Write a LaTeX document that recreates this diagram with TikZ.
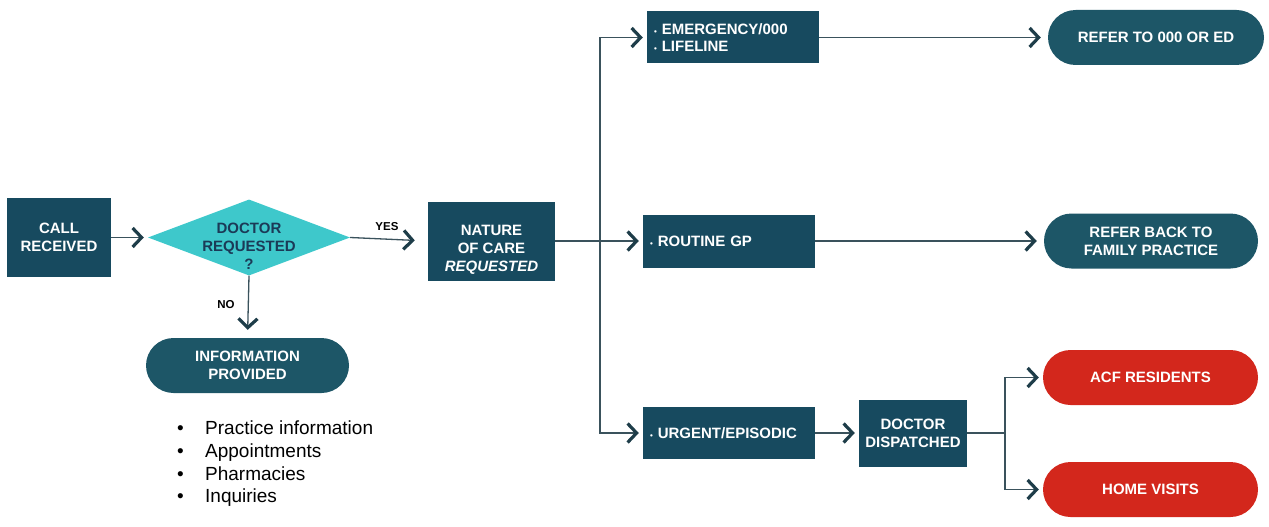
\documentclass[tikz,border=0pt]{standalone}
\usepackage{fontspec}
\setmainfont{Liberation Sans}
\usetikzlibrary{
    arrows.meta,
    shapes.geometric
}
\definecolor{boxteal}{HTML}{174A5F}
\definecolor{pillteal}{HTML}{1D5667}
\definecolor{alertred}{HTML}{D3271C}
\definecolor{decision}{HTML}{3EC8CB}
\definecolor{decisiontext}{HTML}{1B3A57}
\definecolor{conncol}{HTML}{3A525C}
\definecolor{tipcol}{HTML}{1E3D49}
\newcommand\flowfont{\fontsize{15}{17.8}\selectfont\bfseries}
\tikzset {
    base/.style = {inner sep = 0pt, text = white, font = \flowfont, align = center},
    darkbox/.style = {base, fill = boxteal},
    listbox/.style = {
        darkbox, align = left, text width = 158pt, inner xsep = 7pt,
        minimum width = 172pt, minimum height = 52pt
    },
    pill/.style = {
        base, fill = pillteal, minimum width = 215pt, minimum height = 55pt,
        rounded corners = 27.5pt
    },
    redpill/.style = {pill, fill = alertred},
    question/.style = {
        diamond, fill = decision, inner sep = 0pt,
        minimum width = 202pt, minimum height = 76pt
    },
    conn/.style = {draw = conncol, line width = 1.3pt},
    arr/.style = {
        conn,
        -{Straight Barb[length = 9pt, width = 19pt, line width = 3.2pt, color = tipcol]},
        shorten > = 4pt
    },
    tag/.style = {inner sep = 0pt, text = black, font = \fontsize{11.5}{11.5}\selectfont\bfseries}
}
\newcommand\itm{{\fontsize{8}{8}\selectfont\textbullet}\hspace{5pt}}

\begin{document}
\begin{tikzpicture}[x = 1pt, y = -1pt]
        \useasboundingbox (0, 0) rectangle (1269, 527);
        % left part
        \node [darkbox, minimum width = 104pt, minimum height = 79pt] (call) at (59, 237.5) {CALL\\RECEIVED};
        \node [question] (dq) at (249, 237.5) {};
        \node [base, text = decisiontext, yshift = -9pt] (dqtext) at (dq) {DOCTOR\\REQUESTED\\?};
        \node [darkbox, minimum width = 127pt, minimum height = 79pt] (nat) at (491.5, 241) {};
        \node [base, yshift = -9pt] (nattext) at (nat) {NATURE\\OF CARE\\\textit{REQUESTED}};
        \node [pill, minimum width = 203pt] (info) at (247.5, 365.5) {INFORMATION\\PROVIDED};
        \node [anchor = north west, inner sep = 0pt, align = left,
            font = \fontsize{19}{22.6}\selectfont] (facts) at (177, 421)
            {\makebox[28pt][l]{\textbullet}Practice information\\
             \makebox[28pt][l]{\textbullet}Appointments\\
             \makebox[28pt][l]{\textbullet}Pharmacies\\
             \makebox[28pt][l]{\textbullet}Inquiries};
        % care types
        \node [listbox] (emg) at (733, 37.5) {\itm EMERGENCY/000\\\itm LIFELINE};
        \node [listbox, minimum height = 53pt] (rout) at (729, 241) {\itm ROUTINE GP};
        \node [listbox] (urg) at (729, 433) {\itm URGENT/EPISODIC};
        \node [darkbox, minimum width = 108pt, minimum height = 67pt] (disp) at (913, 433) {DOCTOR\\DISPATCHED};
        % outcomes
        \node [pill, minimum width = 216pt] (ref0) at (1156, 37.5) {REFER TO 000 OR ED};
        \node [pill, minimum width = 214pt] (refb) at (1151, 241) {REFER BACK TO\\FAMILY PRACTICE};
        \node [redpill] (acf) at (1150.5, 377.5) {ACF RESIDENTS};
        \node [redpill] (home) at (1150.5, 489.5) {HOME VISITS};
        \coordinate (br) at (600, 241);
        \coordinate (br2) at (1005, 433);
        % connectors
        \draw [arr] (call) -- (dq);
        \draw [arr, shorten > = 13pt] (dq.east) -- (nat.west);
        \node [tag] (yes) at (387, 227) {YES};
        \draw [arr, shorten > = 8pt] (dq.south) -- (info.north);
        \node [tag] (no) at (226, 305) {NO};
        \draw [conn] (nat.east) -- (br);
        \draw [arr] (br) -- (rout);
        \draw [arr] (br) |- (emg);
        \draw [arr] (br) |- (urg);
        \draw [arr, shorten > = 7pt] (emg) -- (ref0);
        \draw [arr, shorten > = 7pt] (rout) -- (refb);
        \draw [arr] (urg) -- (disp);
        \draw [conn] (disp) -- (br2);
        \draw [arr] (br2) |- (acf);
        \draw [arr] (br2) |- (home);
    \end{tikzpicture}
\end{document}
